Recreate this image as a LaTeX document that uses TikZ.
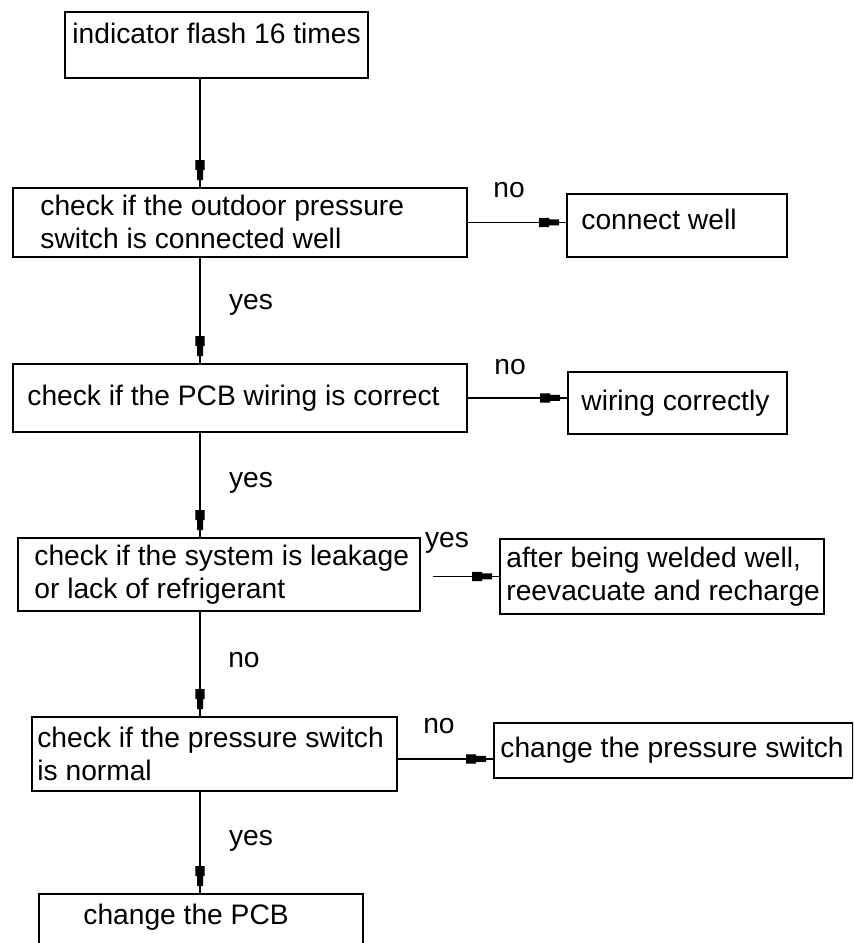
\documentclass[tikz,border=0pt]{standalone}
\usepackage{fontspec}
\setmainfont{Liberation Sans}
\usetikzlibrary{positioning,decorations.markings}

\tikzset{
  box/.style={draw,line width=0.9pt,anchor=north west,inner sep=0pt},
  txt/.style={inner sep=0pt,align=left},
  lbl/.style={inner sep=0pt},
  link/.style={line width=0.75pt,postaction={decorate},
    decoration={markings,mark=at position -3.5pt with
      {\fill (-10pt,-2.3pt) -- (-5pt,-2.3pt) -- (-5pt,-1.5pt) -- (0pt,-1.5pt)
         -- (0pt,1.5pt) -- (-5pt,1.5pt) -- (-5pt,2.3pt) -- (-10pt,2.3pt) -- cycle;}}}
}

\begin{document}
\begin{tikzpicture}[x=0.5pt,y=-0.5pt,font=\fontsize{14.1}{16.5}\selectfont]
\clip (0,0) rectangle (853,943);
\coordinate (spine) at (200,0);

% main column
\node[box,minimum width=151.5pt,minimum height=33pt] (start) at (64,11) {};
\node[box,minimum width=227pt,minimum height=34.5pt] (outdoor) at (12,187) {};
\node[box,minimum width=227pt,minimum height=34pt] (pcb) at (12,363) {};
\node[box,minimum width=201pt,minimum height=36.5pt] (leak) at (17,537) {};
\node[box,minimum width=182.5pt,minimum height=37pt] (psw) at (31,716) {};
\node[box,minimum width=162pt,minimum height=40pt] (newpcb) at (38,893) {};

% right column
\node[box,minimum width=110pt,minimum height=31.5pt] (connect) at (566,193) {};
\node[box,minimum width=109.5pt,minimum height=31pt] (wiring) at (567,371) {};
\node[box,minimum width=162pt,minimum height=37.5pt] (weld) at (499,538) {};
\node[box,minimum width=179.5pt,minimum height=27.5pt] (swap) at (493,722) {};

% texts
\node[txt,right=4pt of start.west,yshift=5.6pt] (tstart) {indicator flash 16 times};
\node[txt,right=14pt of outdoor.west] (toutdoor) {check if the outdoor pressure\\switch is connected well};
\node[txt,right=7.5pt of pcb.west] (tpcb) {check if the PCB wiring is correct};
\node[txt,right=8.5pt of leak.west] (tleak) {check if the system is leakage\\or lack of refrigerant};
\node[txt,right=3pt of psw.west] (tpsw) {check if the pressure switch\\is normal};
\node[txt,below right=5.2pt and 22.5pt of newpcb.north west] (tnewpcb) {change the PCB};
\node[txt,right=7.5pt of connect.west,yshift=3pt] (tconnect) {connect well};
\node[txt,right=7pt of wiring.west] (twiring) {wiring correctly};
\node[txt,right=3.5pt of weld.west] (tweld) {after being welded well,\\reevacuate and recharge};
\node[txt,right=3.5pt of swap.west] (tswap) {change the pressure switch};

% labels
\node[lbl] (no1) at (509,190) {no};
\node[lbl] (no2) at (510,367) {no};
\node[lbl] (yes3) at (447,543) {yes};
\node[lbl] (no4) at (439,726) {no};
\node[lbl] (yes1) at (251,305) {yes};
\node[lbl] (yes2) at (251,483) {yes};
\node[lbl] (no3) at (244,660) {no};
\node[lbl] (yes4) at (251,841) {yes};

% connectors
\draw[link] (start.south -| spine) -- (outdoor.north -| spine);
\draw[link] (outdoor.south -| spine) -- (pcb.north -| spine);
\draw[link] (pcb.south -| spine) -- (leak.north -| spine);
\draw[link] (leak.south -| spine) -- (psw.north -| spine);
\draw[link] (psw.south -| spine) -- (newpcb.north -| spine);
\draw[link] (outdoor.east) -- (outdoor.east -| connect.west);
\draw[link] (pcb.east) -- (pcb.east -| wiring.west);
\draw[link,shorten <=6pt] (weld.west -| leak.east) -- (weld.west);
\draw[link] ([yshift=-2.5pt]psw.east) -- ([yshift=-2.5pt]psw.east -| swap.west);
\end{tikzpicture}
\end{document}
